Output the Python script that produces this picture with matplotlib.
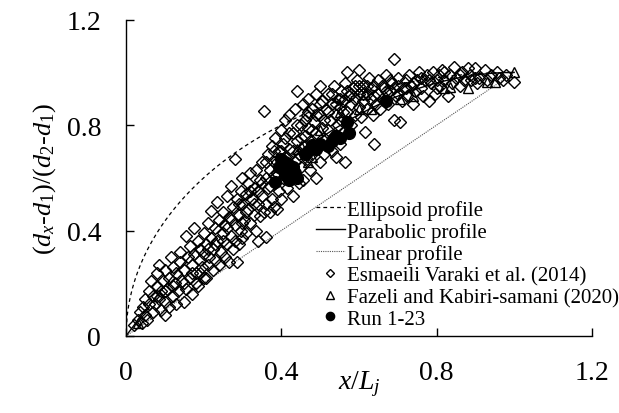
import numpy as np
import matplotlib
matplotlib.use("Agg")
import matplotlib.pyplot as plt

plt.rcParams['font.family'] = ['Liberation Serif', 'DejaVu Serif']
plt.rcParams['mathtext.fontset'] = 'custom'
plt.rcParams['mathtext.rm'] = 'Liberation Serif'
plt.rcParams['mathtext.it'] = 'Liberation Serif:italic'

# Measured profiles: Esmaeili Varaki et al. (2014)
esmaeili = [
    (0.02, 0.04), (0.03, 0.06), (0.035, 0.09), (0.04, 0.05), (0.045, 0.11), (0.05, 0.08),
    (0.05, 0.14), (0.055, 0.06), (0.06, 0.12), (0.06, 0.17), (0.065, 0.21), (0.07, 0.09),
    (0.07, 0.15), (0.075, 0.12), (0.08, 0.19), (0.08, 0.24), (0.085, 0.27), (0.085, 0.14),
    (0.09, 0.10), (0.09, 0.17), (0.095, 0.21), (0.10, 0.08), (0.10, 0.13), (0.10, 0.25),
    (0.105, 0.18), (0.11, 0.22), (0.11, 0.11), (0.115, 0.30), (0.12, 0.15), (0.12, 0.26),
    (0.125, 0.20), (0.13, 0.12), (0.13, 0.24), (0.135, 0.17), (0.14, 0.32), (0.14, 0.28),
    (0.145, 0.21), (0.15, 0.13), (0.15, 0.25), (0.155, 0.38), (0.155, 0.18), (0.16, 0.30),
    (0.165, 0.22), (0.165, 0.34), (0.17, 0.27), (0.17, 0.16), (0.175, 0.41), (0.175, 0.31),
    (0.18, 0.24), (0.18, 0.20), (0.185, 0.36), (0.185, 0.19), (0.19, 0.29), (0.19, 0.33),
    (0.195, 0.26), (0.20, 0.39), (0.20, 0.22), (0.20, 0.31),
    (0.205, 0.35), (0.205, 0.22), (0.21, 0.27), (0.21, 0.43), (0.215, 0.30), (0.22, 0.475),
    (0.22, 0.37), (0.225, 0.25), (0.225, 0.33), (0.23, 0.41), (0.23, 0.29), (0.235, 0.51),
    (0.235, 0.36), (0.24, 0.44), (0.24, 0.27), (0.245, 0.32), (0.25, 0.39), (0.25, 0.47),
    (0.255, 0.30), (0.255, 0.42), (0.26, 0.35), (0.26, 0.53), (0.265, 0.45), (0.265, 0.28),
    (0.27, 0.57), (0.27, 0.38), (0.275, 0.33), (0.275, 0.49), (0.28, 0.67), (0.28, 0.42),
    (0.285, 0.28), (0.285, 0.52), (0.29, 0.35), (0.29, 0.46), (0.295, 0.55), (0.295, 0.40),
    (0.30, 0.60), (0.30, 0.50), (0.30, 0.37),
    (0.305, 0.44), (0.31, 0.54), (0.31, 0.39), (0.315, 0.58), (0.315, 0.48), (0.32, 0.62),
    (0.32, 0.43), (0.325, 0.52), (0.33, 0.56), (0.33, 0.46), (0.335, 0.63), (0.335, 0.40),
    (0.34, 0.36), (0.34, 0.50), (0.345, 0.455), (0.345, 0.59), (0.35, 0.66), (0.35, 0.53),
    (0.355, 0.855), (0.355, 0.47), (0.36, 0.375), (0.36, 0.60), (0.365, 0.69), (0.365, 0.56),
    (0.37, 0.47), (0.37, 0.63), (0.375, 0.72), (0.375, 0.52), (0.38, 0.49), (0.38, 0.66),
    (0.385, 0.58), (0.385, 0.75), (0.39, 0.48), (0.39, 0.62), (0.395, 0.70), (0.395, 0.55),
    (0.40, 0.78), (0.40, 0.64), (0.40, 0.52),
    (0.405, 0.60), (0.405, 0.73), (0.41, 0.68), (0.41, 0.82), (0.415, 0.56), (0.42, 0.84),
    (0.42, 0.71), (0.425, 0.63), (0.43, 0.53), (0.43, 0.77), (0.435, 0.66), (0.435, 0.86),
    (0.44, 0.93), (0.44, 0.74), (0.445, 0.69), (0.445, 0.58), (0.45, 0.80), (0.45, 0.64),
    (0.455, 0.59), (0.455, 0.88), (0.46, 0.76), (0.46, 0.72), (0.465, 0.84), (0.465, 0.67),
    (0.47, 0.79), (0.47, 0.90), (0.475, 0.63), (0.475, 0.74), (0.48, 0.86), (0.48, 0.69),
    (0.485, 0.81), (0.49, 0.60), (0.49, 0.77), (0.49, 0.92), (0.495, 0.72), (0.50, 0.95),
    (0.50, 0.84), (0.50, 0.66),
    (0.505, 0.79), (0.505, 0.89), (0.51, 0.74), (0.51, 0.69), (0.515, 0.86), (0.52, 0.92),
    (0.52, 0.78), (0.525, 0.82), (0.53, 0.70), (0.53, 0.88), (0.535, 0.95), (0.535, 0.76),
    (0.54, 0.68), (0.54, 0.84), (0.545, 0.90), (0.545, 0.80), (0.55, 0.73), (0.55, 0.87),
    (0.555, 0.93), (0.555, 0.82), (0.56, 0.77), (0.56, 0.89), (0.565, 0.66), (0.565, 0.96),
    (0.57, 1.00), (0.57, 0.85), (0.575, 0.91), (0.58, 0.80), (0.58, 0.88), (0.585, 0.94),
    (0.59, 0.84), (0.59, 0.90), (0.595, 0.97), (0.60, 1.01), (0.60, 0.87), (0.60, 0.92),
    (0.605, 0.83), (0.61, 0.95), (0.61, 0.89), (0.615, 0.775), (0.62, 0.92), (0.62, 0.86),
    (0.625, 0.98), (0.63, 0.90), (0.635, 0.84), (0.64, 0.73), (0.64, 0.95), (0.645, 0.88),
    (0.65, 0.92), (0.65, 0.97), (0.655, 0.86), (0.66, 0.90), (0.665, 0.94), (0.67, 0.99),
    (0.675, 0.88), (0.68, 0.93), (0.685, 0.96), (0.69, 1.05), (0.69, 0.82), (0.695, 0.91),
    (0.70, 0.95), (0.70, 0.98),
    (0.705, 0.81), (0.71, 0.89), (0.715, 0.94), (0.72, 0.97), (0.725, 0.91), (0.73, 0.99),
    (0.735, 0.95), (0.74, 0.88), (0.745, 0.93), (0.75, 0.97), (0.755, 1.00), (0.76, 0.94),
    (0.765, 0.91), (0.77, 0.97), (0.775, 0.99), (0.78, 0.89), (0.785, 0.96), (0.79, 1.00),
    (0.795, 0.92), (0.80, 0.97),
    (0.805, 0.99), (0.81, 0.95), (0.815, 1.01), (0.82, 0.97), (0.83, 0.91), (0.835, 0.99),
    (0.84, 0.96), (0.845, 1.02), (0.85, 0.98), (0.86, 0.95), (0.865, 1.00), (0.87, 0.97),
    (0.88, 1.015), (0.885, 0.99), (0.89, 0.97), (0.90, 1.015), (0.905, 0.96), (0.91, 0.98),
    (0.925, 1.01), (0.93, 0.97), (0.94, 0.99), (0.955, 1.00), (0.96, 0.98), (0.97, 0.97),
    (0.98, 0.99), (1.00, 0.965),
    (0.25, 0.36), (0.26, 0.41), (0.27, 0.44), (0.28, 0.36), (0.29, 0.50), (0.30, 0.43),
    (0.31, 0.47), (0.32, 0.55), (0.33, 0.50), (0.34, 0.55), (0.35, 0.58), (0.36, 0.50),
    (0.36, 0.66), (0.37, 0.57), (0.38, 0.61), (0.38, 0.70), (0.39, 0.66), (0.40, 0.70),
    (0.41, 0.75), (0.42, 0.77), (0.43, 0.70), (0.44, 0.80), (0.45, 0.75), (0.46, 0.82),
    (0.47, 0.85), (0.48, 0.78), (0.49, 0.84), (0.50, 0.88), (0.51, 0.82), (0.52, 0.85),
    (0.53, 0.92), (0.54, 0.88), (0.55, 0.90), (0.56, 0.85), (0.57, 0.93), (0.58, 0.92),
    (0.59, 0.95), (0.60, 0.95), (0.61, 0.92), (0.62, 0.95), (0.63, 0.94), (0.64, 0.91),
    (0.66, 0.95), (0.67, 0.93), (0.68, 0.97), (0.69, 0.94), (0.70, 0.92), (0.72, 0.94),
    (0.74, 0.96), (0.76, 0.98), (0.78, 0.97), (0.80, 0.94), (0.82, 1.00), (0.86, 0.99),
    (0.90, 0.98), (0.15, 0.20), (0.17, 0.24), (0.19, 0.24), (0.21, 0.33), (0.23, 0.35),
    (0.12, 0.19), (0.08, 0.15), (0.10, 0.17),
]

# Fazeli and Kabiri-samani (2020)
fazeli = [
    (0.03, 0.05), (0.414, 0.62), (0.44, 0.71), (0.45, 0.72), (0.47, 0.66), (0.48, 0.68),
    (0.50, 0.78), (0.55, 0.85), (0.60, 0.86), (0.615, 0.92), (0.63, 0.86), (0.705, 0.90),
    (0.74, 0.91), (0.82, 0.94), (0.835, 0.945), (0.88, 0.94), (0.93, 0.965), (0.95, 0.965),
    (1.00, 1.00),
]

# Present experiments, Run 1-23
runs = [
    (0.385, 0.585), (0.40, 0.67), (0.41, 0.66), (0.42, 0.65), (0.43, 0.64), (0.435, 0.62),
    (0.42, 0.59), (0.44, 0.60), (0.41, 0.61), (0.395, 0.64), (0.47, 0.70), (0.48, 0.725),
    (0.50, 0.73), (0.52, 0.72), (0.53, 0.74), (0.54, 0.76), (0.55, 0.75), (0.57, 0.81),
    (0.575, 0.77), (0.49, 0.71), (0.46, 0.69), (0.67, 0.89), (0.425, 0.63),
]

# Theoretical profiles on x/Lj in [0, 1]
xi = np.linspace(0, 1, 400)
ellipsoid = np.sqrt(1 - (1 - xi) ** 2)
parabolic = 1 - (1 - xi) ** 2
linear = xi

fig = plt.figure(figsize=(6.19, 4.14), dpi=100)
ax = fig.add_axes([0.2036, 0.186, 0.7525, 0.764])

ax.plot(xi, ellipsoid, color='black', lw=0.9, ls=(0, (3, 2.5)), label='Ellipsoid profile', zorder=1)
ax.plot(xi, parabolic, color='black', lw=1.0, ls='-', label='Parabolic profile', zorder=1)
ax.plot(xi, linear, color='#555555', lw=0.8, ls=(0, (1, 1)), label='Linear profile', zorder=1)

ex, ey = zip(*esmaeili)
ax.plot(ex, ey, ls='none', marker='D', ms=5.8, mfc='none', mec='black', mew=1.0,
        label='Esmaeili Varaki et al. (2014)', zorder=2)
fx, fy = zip(*fazeli)
ax.plot(fx, fy, ls='none', marker='^', ms=7.5, mfc='none', mec='black', mew=1.0,
        label='Fazeli and Kabiri-samani (2020)', zorder=3)
rx, ry = zip(*runs)
ax.plot(rx, ry, ls='none', marker='o', ms=8.5, mfc='black', mec='black',
        label='Run 1-23', zorder=4)

ax.set_xlim(0, 1.2)
ax.set_ylim(0, 1.2)
ax.set_xticks([0, 0.4, 0.8, 1.2])
ax.set_yticks([0, 0.4, 0.8, 1.2])
ax.set_xticklabels(['0', '0.4', '0.8', '1.2'])
ax.set_yticklabels(['0', '0.4', '0.8', '1.2'])
ax.tick_params(direction='in', length=6, width=1, labelsize=20)
ax.tick_params(axis='x', pad=17)
ax.tick_params(axis='y', pad=18)
for s in ['top', 'right']:
    ax.spines[s].set_visible(False)
for s in ['left', 'bottom']:
    ax.spines[s].set_linewidth(1)

ax.set_xlabel(r'$x/L_j$', fontsize=20, labelpad=-12)
ax.set_ylabel(r'($d_x$-$d_1$)/($d_2$-$d_1$)', fontsize=19, labelpad=6)

leg = ax.legend(loc='lower left', bbox_to_anchor=(0.385, -0.01), frameon=False, fontsize=15,
                handlelength=1.4, handletextpad=0.12, labelspacing=0.1, borderpad=0,
                markerscale=0.7)

fig.savefig('out.png', dpi=100)
